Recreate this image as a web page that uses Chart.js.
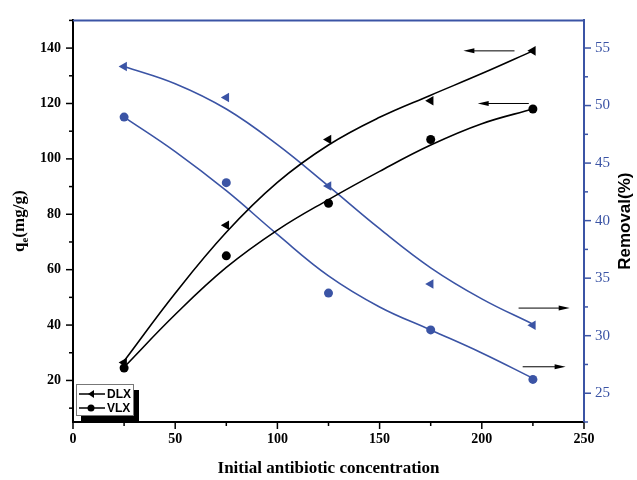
<!DOCTYPE html>
<html>
<head>
<meta charset="utf-8">
<script src="https://cdn.jsdelivr.net/npm/chart.js@4.4.1/dist/chart.umd.min.js"></script>
<style>
  html, body { margin: 0; padding: 0; background: #fff; }
  #wrap { width: 637px; height: 480px; }
</style>
</head>
<body>
<div id="wrap"><canvas id="chart" width="637" height="480"></canvas></div>
<script>
// measured points
const concentration = [25, 75, 125, 175, 225];
const qeDLX = [26.5, 76, 107, 121, 139];
const qeVLX = [24.5, 65, 84, 107, 118];
const removalDLX = [53.4, 50.7, 43, 34.5, 30.9];
const removalVLX = [49, 43.3, 33.7, 30.5, 26.2];

// fitted curves
const fitX = [25, 50, 75, 100, 125, 150, 175, 200, 225];
const fitQeDLX = [27, 51.5, 73.5, 91.5, 105, 115, 123, 130.8, 139];
const fitQeVLX = [24.8, 43.8, 60.8, 74.3, 85.3, 95.5, 105, 112.7, 118];
const fitRemDLX = [53.4, 51.9, 49.7, 46.6, 43, 39.3, 35.9, 33.2, 31];
const fitRemVLX = [49, 46, 42.6, 38.8, 35.2, 32.5, 30.5, 28.5, 26.3];

// ticks
const xTicks = [0, 50, 100, 150, 200, 250];
const qeTicks = [20, 40, 60, 80, 100, 120, 140];
const removalTicks = [25, 30, 35, 40, 45, 50, 55];

// arrows pointing to the axis each series belongs to
const arrowAxis = ['y', 'y', 'y2', 'y2'];
const arrowY = [139, 120, 32.4, 27.3];
const arrowFrom = [216, 223, 218, 220];
const arrowTo = [191, 198, 243, 241];

const BLUE = '#3b54a5';
const pts = (xs, ys) => xs.map((x, i) => ({ x, y: ys[i] }));

const fixedSize = (size, dim) => scale => { scale[dim] = size; };

const onlyTicks = list => scale => { scale.ticks = list.map(v => ({ value: v })); };

const decorPlugin = {
  id: 'decor',
  afterDraw(chart) {
    const { ctx, chartArea: a, scales } = chart;
    const x = scales.x, y = scales.y, y2 = scales.y2;
    ctx.save();

    // top border
    ctx.strokeStyle = BLUE;
    ctx.lineWidth = 2;
    ctx.beginPath();
    ctx.moveTo(a.left, a.top);
    ctx.lineTo(a.right, a.top);
    ctx.stroke();

    // tick marks (major + minor)
    const tick = (x1, y1, x2, y2p, col) => {
      ctx.strokeStyle = col;
      ctx.lineWidth = 1.5;
      ctx.beginPath();
      ctx.moveTo(x1, y1);
      ctx.lineTo(x2, y2p);
      ctx.stroke();
    };
    for (let v = 0; v <= 250; v += 25) {
      const px = x.getPixelForValue(v);
      tick(px, a.bottom, px, a.bottom + (v % 50 === 0 ? 7 : 4), '#000');
    }
    for (let v = 10; v <= 150; v += 10) {
      const py = y.getPixelForValue(v);
      tick(a.left, py, a.left - (v % 20 === 0 ? 7 : 4), py, '#000');
    }
    for (let v = 22.5; v <= 57.5; v += 2.5) {
      if (v < y2.min || v > y2.max) continue;
      const py = y2.getPixelForValue(v);
      tick(a.right, py, a.right + (v % 5 === 0 ? 7 : 4), py, BLUE);
    }

    // arrows
    ctx.strokeStyle = '#000';
    ctx.fillStyle = '#000';
    ctx.lineWidth = 1;
    arrowY.forEach((v, i) => {
      const sc = arrowAxis[i] === 'y' ? y : y2;
      const py = sc.getPixelForValue(v);
      const x1 = x.getPixelForValue(arrowFrom[i]);
      const x2 = x.getPixelForValue(arrowTo[i]);
      const dir = Math.sign(x2 - x1);
      ctx.beginPath();
      ctx.moveTo(x1, py);
      ctx.lineTo(x2 - dir * 8, py);
      ctx.stroke();
      ctx.beginPath();
      ctx.moveTo(x2, py);
      ctx.lineTo(x2 - dir * 11, py - 2.5);
      ctx.lineTo(x2 - dir * 11, py + 2.5);
      ctx.closePath();
      ctx.fill();
    });

    // axis titles
    ctx.fillStyle = '#000';
    ctx.textAlign = 'center';
    ctx.textBaseline = 'middle';
    ctx.font = 'bold 17px "Liberation Serif"';
    ctx.fillText('Initial antibiotic concentration', (a.left + a.right) / 2, 469);

    ctx.save();
    ctx.translate(20, (a.top + a.bottom) / 2);
    ctx.rotate(-Math.PI / 2);
    ctx.textAlign = 'left';
    const w1 = ctx.measureText('q').width;
    ctx.font = 'bold 11px "Liberation Serif"';
    const w2 = ctx.measureText('e').width;
    ctx.font = 'bold 17px "Liberation Serif"';
    const w3 = ctx.measureText('(mg/g)').width;
    let sx = -(w1 + w2 + w3) / 2;
    ctx.fillText('q', sx, 0);
    ctx.font = 'bold 11px "Liberation Serif"';
    ctx.fillText('e', sx + w1, 5);
    ctx.font = 'bold 17px "Liberation Serif"';
    ctx.fillText('(mg/g)', sx + w1 + w2, 0);
    ctx.restore();

    ctx.save();
    ctx.translate(625, (a.top + a.bottom) / 2);
    ctx.rotate(-Math.PI / 2);
    ctx.font = 'bold 17px "Liberation Sans"';
    ctx.fillText('Removal(%)', 0, 0);
    ctx.restore();

    // legend box with shadow
    const lx = a.left + 3, ly = 384, lw = 57, lh = 31;
    ctx.fillStyle = '#000';
    ctx.fillRect(lx + 5, ly + 6, lw + 1, a.bottom - ly - 6);
    ctx.fillStyle = '#fff';
    ctx.fillRect(lx, ly, lw, lh);
    ctx.strokeStyle = '#777';
    ctx.lineWidth = 1;
    ctx.strokeRect(lx + 0.5, ly + 0.5, lw, lh);

    const items = [
      { label: 'DLX', style: 'triangle' },
      { label: 'VLX', style: 'circle' }
    ];
    items.forEach((it, i) => {
      const iy = ly + 10 + i * 14;
      ctx.strokeStyle = '#000';
      ctx.lineWidth = 1.5;
      ctx.beginPath();
      ctx.moveTo(lx + 3, iy);
      ctx.lineTo(lx + 29, iy);
      ctx.stroke();
      ctx.fillStyle = '#000';
      ctx.beginPath();
      if (it.style === 'triangle') {
        ctx.moveTo(lx + 12, iy);
        ctx.lineTo(lx + 18, iy - 4);
        ctx.lineTo(lx + 18, iy + 4);
        ctx.closePath();
      } else {
        ctx.arc(lx + 15, iy, 3.5, 0, Math.PI * 2);
      }
      ctx.fill();
      ctx.font = 'bold 12px "Liberation Sans"';
      ctx.textAlign = 'left';
      ctx.fillText(it.label, lx + 31, iy + 1);
    });

    ctx.restore();
  }
};

const fitLine = (ys, color, axis) => ({
  data: pts(fitX, ys),
  yAxisID: axis,
  showLine: true,
  borderColor: color,
  borderWidth: 1.6,
  pointRadius: 0,
  tension: 0.4,
  fill: false
});

const markers = (ys, color, axis, style) => ({
  data: pts(concentration, ys),
  yAxisID: axis,
  showLine: false,
  pointStyle: style,
  rotation: style === 'triangle' ? -90 : 0,
  pointRadius: style === 'triangle' ? 5.5 : 4.5,
  backgroundColor: color,
  borderColor: color,
  borderWidth: 0
});

new Chart(document.getElementById('chart'), {
  type: 'scatter',
  data: {
    datasets: [
      fitLine(fitQeDLX, '#000', 'y'),
      fitLine(fitQeVLX, '#000', 'y'),
      fitLine(fitRemDLX, BLUE, 'y2'),
      fitLine(fitRemVLX, BLUE, 'y2'),
      markers(qeDLX, '#000', 'y', 'triangle'),
      markers(qeVLX, '#000', 'y', 'circle'),
      markers(removalDLX, BLUE, 'y2', 'triangle'),
      markers(removalVLX, BLUE, 'y2', 'circle')
    ]
  },
  options: {
    responsive: false,
    animation: false,
    layout: { padding: { top: 17, left: 0, right: 0, bottom: 0 } },
    plugins: { legend: { display: false }, tooltip: { enabled: false } },
    scales: {
      x: {
        type: 'linear',
        min: 0, max: 250,
        afterFit: fixedSize(58, 'height'),
        afterBuildTicks: onlyTicks(xTicks),
        grid: { display: false, drawTicks: false },
        border: { display: true, color: '#000', width: 2 },
        ticks: { color: '#000', padding: 9, font: { family: 'Liberation Serif', weight: 'bold', size: 14 } }
      },
      y: {
        position: 'left',
        min: 5, max: 150,
        afterFit: fixedSize(73, 'width'),
        afterBuildTicks: onlyTicks(qeTicks),
        grid: { display: false, drawTicks: false },
        border: { display: true, color: '#000', width: 2 },
        ticks: { color: '#000', padding: 12, font: { family: 'Liberation Serif', weight: 'bold', size: 14 } }
      },
      y2: {
        position: 'right',
        min: 22.5, max: 57.4,
        afterFit: fixedSize(53, 'width'),
        afterBuildTicks: onlyTicks(removalTicks),
        grid: { display: false, drawTicks: false },
        border: { display: true, color: BLUE, width: 2 },
        ticks: { color: BLUE, padding: 11, font: { family: 'Liberation Serif', size: 15 } }
      }
    }
  },
  plugins: [decorPlugin]
});
</script>
</body>
</html>
